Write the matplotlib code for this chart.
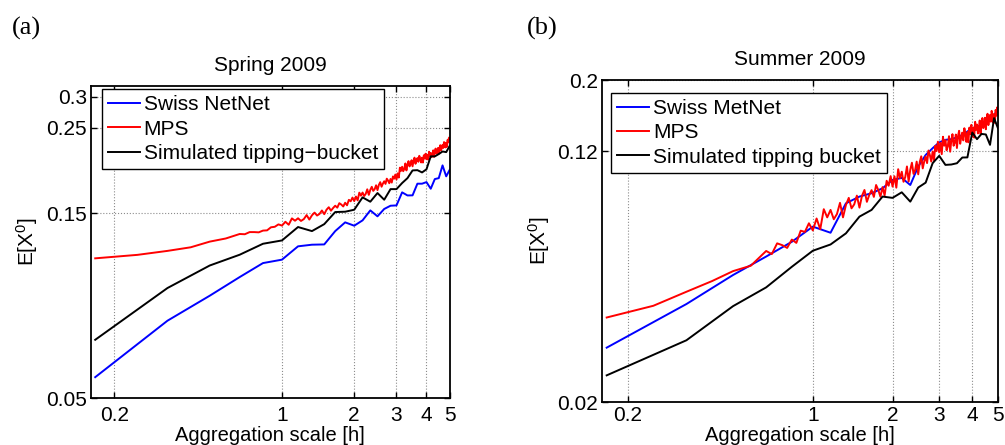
import matplotlib
matplotlib.use("Agg")
from matplotlib import pyplot as plt
from matplotlib import ticker
import numpy as np

# Station / simulated series are on a 10-min grid (minutes)
station_min = [10, 20, 30, 40, 50, 60, 70, 80, 90, 100, 110, 120, 130, 140, 150,
               160, 170, 180, 190, 200, 210, 220, 230, 240, 250, 260, 270, 280, 290, 300]
# MPS series: 5-min steps up to 35 min, then 2-min steps up to 5 h
mps_min = [10, 15, 20, 25, 30, 35] + list(range(40, 302, 2))

# Spring 2009
spring_metnet = [0.0566, 0.0792, 0.0919, 0.1027, 0.1116, 0.1139, 0.1233, 0.1245, 0.1247, 0.1350,
                 0.1422, 0.1394, 0.1439, 0.1527, 0.1474, 0.1540, 0.1570, 0.1573, 0.1700, 0.1669,
                 0.1670, 0.1790, 0.1790, 0.1807, 0.1737, 0.1840, 0.1850, 0.1996, 0.1870, 0.1945]
spring_tb = [0.0707, 0.0962, 0.1100, 0.1173, 0.1252, 0.1277, 0.1383, 0.1350, 0.1407, 0.1512,
             0.1515, 0.1533, 0.1650, 0.1608, 0.1693, 0.1627, 0.1733, 0.1733, 0.1797, 0.1850,
             0.1937, 0.1940, 0.1914, 0.1950, 0.2106, 0.2106, 0.2135, 0.2168, 0.2160, 0.2243]
spring_mps = [0.1148, 0.1172, 0.1200, 0.1226, 0.1268, 0.1292,
              0.1327, 0.1325, 0.1342, 0.1342, 0.1340, 0.1354, 0.1356, 0.1381, 0.1385, 0.1405,
              0.1395, 0.1427, 0.1402, 0.1456, 0.1436, 0.1457, 0.1434, 0.1450, 0.1485, 0.1446,
              0.1483, 0.1507, 0.1481, 0.1495, 0.1526, 0.1493, 0.1533, 0.1556, 0.1524, 0.1549,
              0.1570, 0.1552, 0.1594, 0.1581, 0.1563, 0.1598, 0.1574, 0.1626, 0.1612, 0.1648,
              0.1614, 0.1658, 0.1621, 0.1697, 0.1667, 0.1698, 0.1663, 0.1685, 0.1731, 0.1675,
              0.1725, 0.1757, 0.1715, 0.1733, 0.1773, 0.1723, 0.1777, 0.1806, 0.1758, 0.1791,
              0.1816, 0.1788, 0.1844, 0.1823, 0.1795, 0.1841, 0.1802, 0.1869, 0.1844, 0.1890,
              0.1835, 0.1903, 0.1856, 0.1969, 0.1932, 0.1980, 0.1928, 0.1956, 0.2019, 0.1937,
              0.2005, 0.2047, 0.1984, 0.2006, 0.2058, 0.1985, 0.2055, 0.2090, 0.2015, 0.2055,
              0.2085, 0.2039, 0.2113, 0.2077, 0.2031, 0.2090, 0.2030, 0.2120, 0.2080, 0.2140,
              0.2070, 0.2125, 0.2065, 0.2165, 0.2115, 0.2150, 0.2096, 0.2122, 0.2183, 0.2099,
              0.2165, 0.2206, 0.2142, 0.2163, 0.2214, 0.2140, 0.2213, 0.2251, 0.2179, 0.2222,
              0.2255, 0.2214, 0.2293, 0.2262, 0.2221, 0.2285, 0.2230, 0.2325, 0.2290, 0.2355,
              0.2345]

# Summer 2009
summer_metnet = [0.0295, 0.0403, 0.0496, 0.0566, 0.0629, 0.0701, 0.0671, 0.0828, 0.0869, 0.0890,
                 0.0922, 0.0979, 0.0993, 0.0944, 0.1077, 0.1170, 0.1228, 0.1280, 0.1304, 0.1310,
                 0.1327, 0.1350, 0.1384, 0.1417, 0.1430, 0.1452, 0.1470, 0.1505, 0.1560, 0.1617]
summer_tb = [0.0242, 0.0311, 0.0397, 0.0454, 0.0526, 0.0590, 0.0617, 0.0668, 0.0753, 0.0790,
             0.0869, 0.0861, 0.0896, 0.0838, 0.0927, 0.0960, 0.1103, 0.1163, 0.1090, 0.1093,
             0.1103, 0.1149, 0.1150, 0.1374, 0.1310, 0.1360, 0.1355, 0.1258, 0.1523, 0.1417]
summer_mps = [0.0366, 0.0398, 0.0440, 0.0475, 0.0510, 0.0530,
              0.0589, 0.0576, 0.0622, 0.0614, 0.0602, 0.0639, 0.0624, 0.0681, 0.0675, 0.0718,
              0.0682, 0.0743, 0.0688, 0.0794, 0.0749, 0.0790, 0.0739, 0.0767, 0.0831, 0.0749,
              0.0818, 0.0861, 0.0799, 0.0822, 0.0875, 0.0803, 0.0874, 0.0911, 0.0837, 0.0879,
              0.0910, 0.0867, 0.0944, 0.0911, 0.0868, 0.0930, 0.0876, 0.0973, 0.0939, 0.1006,
              0.0933, 0.1005, 0.0926, 0.1057, 0.0991, 0.1038, 0.0966, 0.0999, 0.1078, 0.0968,
              0.1053, 0.1107, 0.1022, 0.1050, 0.1116, 0.1019, 0.1112, 0.1159, 0.1063, 0.1117,
              0.1157, 0.1104, 0.1208, 0.1168, 0.1116, 0.1200, 0.1127, 0.1250, 0.1203, 0.1287,
              0.1192, 0.1276, 0.1177, 0.1333, 0.1250, 0.1302, 0.1210, 0.1246, 0.1338, 0.1198,
              0.1298, 0.1358, 0.1250, 0.1278, 0.1354, 0.1230, 0.1339, 0.1391, 0.1268, 0.1328,
              0.1373, 0.1299, 0.1417, 0.1359, 0.1285, 0.1379, 0.1281, 0.1423, 0.1357, 0.1451,
              0.1337, 0.1423, 0.1325, 0.1483, 0.1401, 0.1455, 0.1365, 0.1403, 0.1497, 0.1359,
              0.1461, 0.1524, 0.1418, 0.1449, 0.1527, 0.1406, 0.1516, 0.1571, 0.1449, 0.1512,
              0.1558, 0.1485, 0.1604, 0.1547, 0.1474, 0.1569, 0.1472, 0.1615, 0.1550, 0.1645,
              0.1600]

x_ticks = [0.2, 1, 2, 3, 4, 5]
x_labels = ["0.2", "1", "2", "3", "4", "5"]
spring_yticks = [0.05, 0.15, 0.25, 0.3]
spring_ylabels = ["0.05", "0.15", "0.25", "0.3"]
summer_yticks = [0.02, 0.12, 0.2]
summer_ylabels = ["0.02", "0.12", "0.2"]

plt.rcParams["font.family"] = ["Liberation Sans", "DejaVu Sans"]
plt.rcParams["mathtext.fontset"] = "custom"
plt.rcParams["mathtext.rm"] = "Liberation Sans"
plt.rcParams["mathtext.it"] = "Liberation Sans"

fig = plt.figure(figsize=(10.05, 4.45), dpi=100)
ax1 = fig.add_axes([0.0905, 0.1056, 0.357, 0.701])
ax2 = fig.add_axes([0.599, 0.0966, 0.394, 0.7236])


def draw(ax, mps, metnet, tb, labels, title, yticks, ylabels, ylim, legend_xy,
         xpad, xlab_y):
    sx = np.array(station_min) / 60.0
    mx = np.array(mps_min) / 60.0
    ax.plot(sx, metnet, color="blue", lw=1.4, label=labels[0])
    ax.plot(mx, mps, color="red", lw=1.4, label=labels[1])
    ax.plot(sx, tb, color="black", lw=1.4, label=labels[2])
    ax.set_xscale("log")
    ax.set_yscale("log")
    ax.set_xlim(0.16, 5)
    ax.set_ylim(*ylim)
    ax.xaxis.set_major_locator(ticker.FixedLocator(x_ticks))
    ax.xaxis.set_major_formatter(ticker.FixedFormatter(x_labels))
    ax.yaxis.set_major_locator(ticker.FixedLocator(yticks))
    ax.yaxis.set_major_formatter(ticker.FixedFormatter(ylabels))
    ax.xaxis.set_minor_locator(ticker.NullLocator())
    ax.yaxis.set_minor_locator(ticker.NullLocator())
    ax.tick_params(axis="both", which="major", direction="in", length=4, width=1,
                   top=True, right=True, labelsize=15)
    ax.tick_params(axis="x", pad=xpad)
    ax.tick_params(axis="y", pad=3)
    ax.grid(True, which="major", linestyle=":", color="0.55", linewidth=0.8)
    for s in ax.spines.values():
        s.set_linewidth(1.3)
    ax.set_title(title, fontsize=15, pad=11)
    ax.set_xlabel("Aggregation scale [h]", fontsize=14.5)
    ax.xaxis.set_label_coords(0.5, xlab_y)
    ax.set_ylabel(r"E[X$^0$]", fontsize=15, labelpad=4)
    leg = ax.legend(loc="upper left", bbox_to_anchor=legend_xy, borderaxespad=0,
                    fontsize=15, handlelength=1.5, handletextpad=0.2,
                    labelspacing=0.25, borderpad=0.3, fancybox=False,
                    framealpha=1, edgecolor="black")
    leg.get_frame().set_linewidth(1.0)


draw(ax1, spring_mps, spring_metnet, spring_tb,
     ["Swiss NetNet", "MPS", "Simulated tipping\u2212bucket"],
     "Spring 2009", spring_yticks, spring_ylabels, (0.05, 0.32), (0.031, 0.99),
     6, -0.0897)
draw(ax2, summer_mps, summer_metnet, summer_tb,
     ["Swiss MetNet", "MPS", "Simulated tipping bucket"],
     "Summer 2009", summer_yticks, summer_ylabels, (0.02, 0.2), (0.023, 0.96),
     3, -0.0745)

fig.text(12 / 1005, 1 - 28 / 445, "(a)", fontsize=19, family="Liberation Serif", va="center")
fig.text(527 / 1005, 1 - 28 / 445, "(b)", fontsize=19, family="Liberation Serif", va="center")

plt.savefig("out.png", dpi=100)
